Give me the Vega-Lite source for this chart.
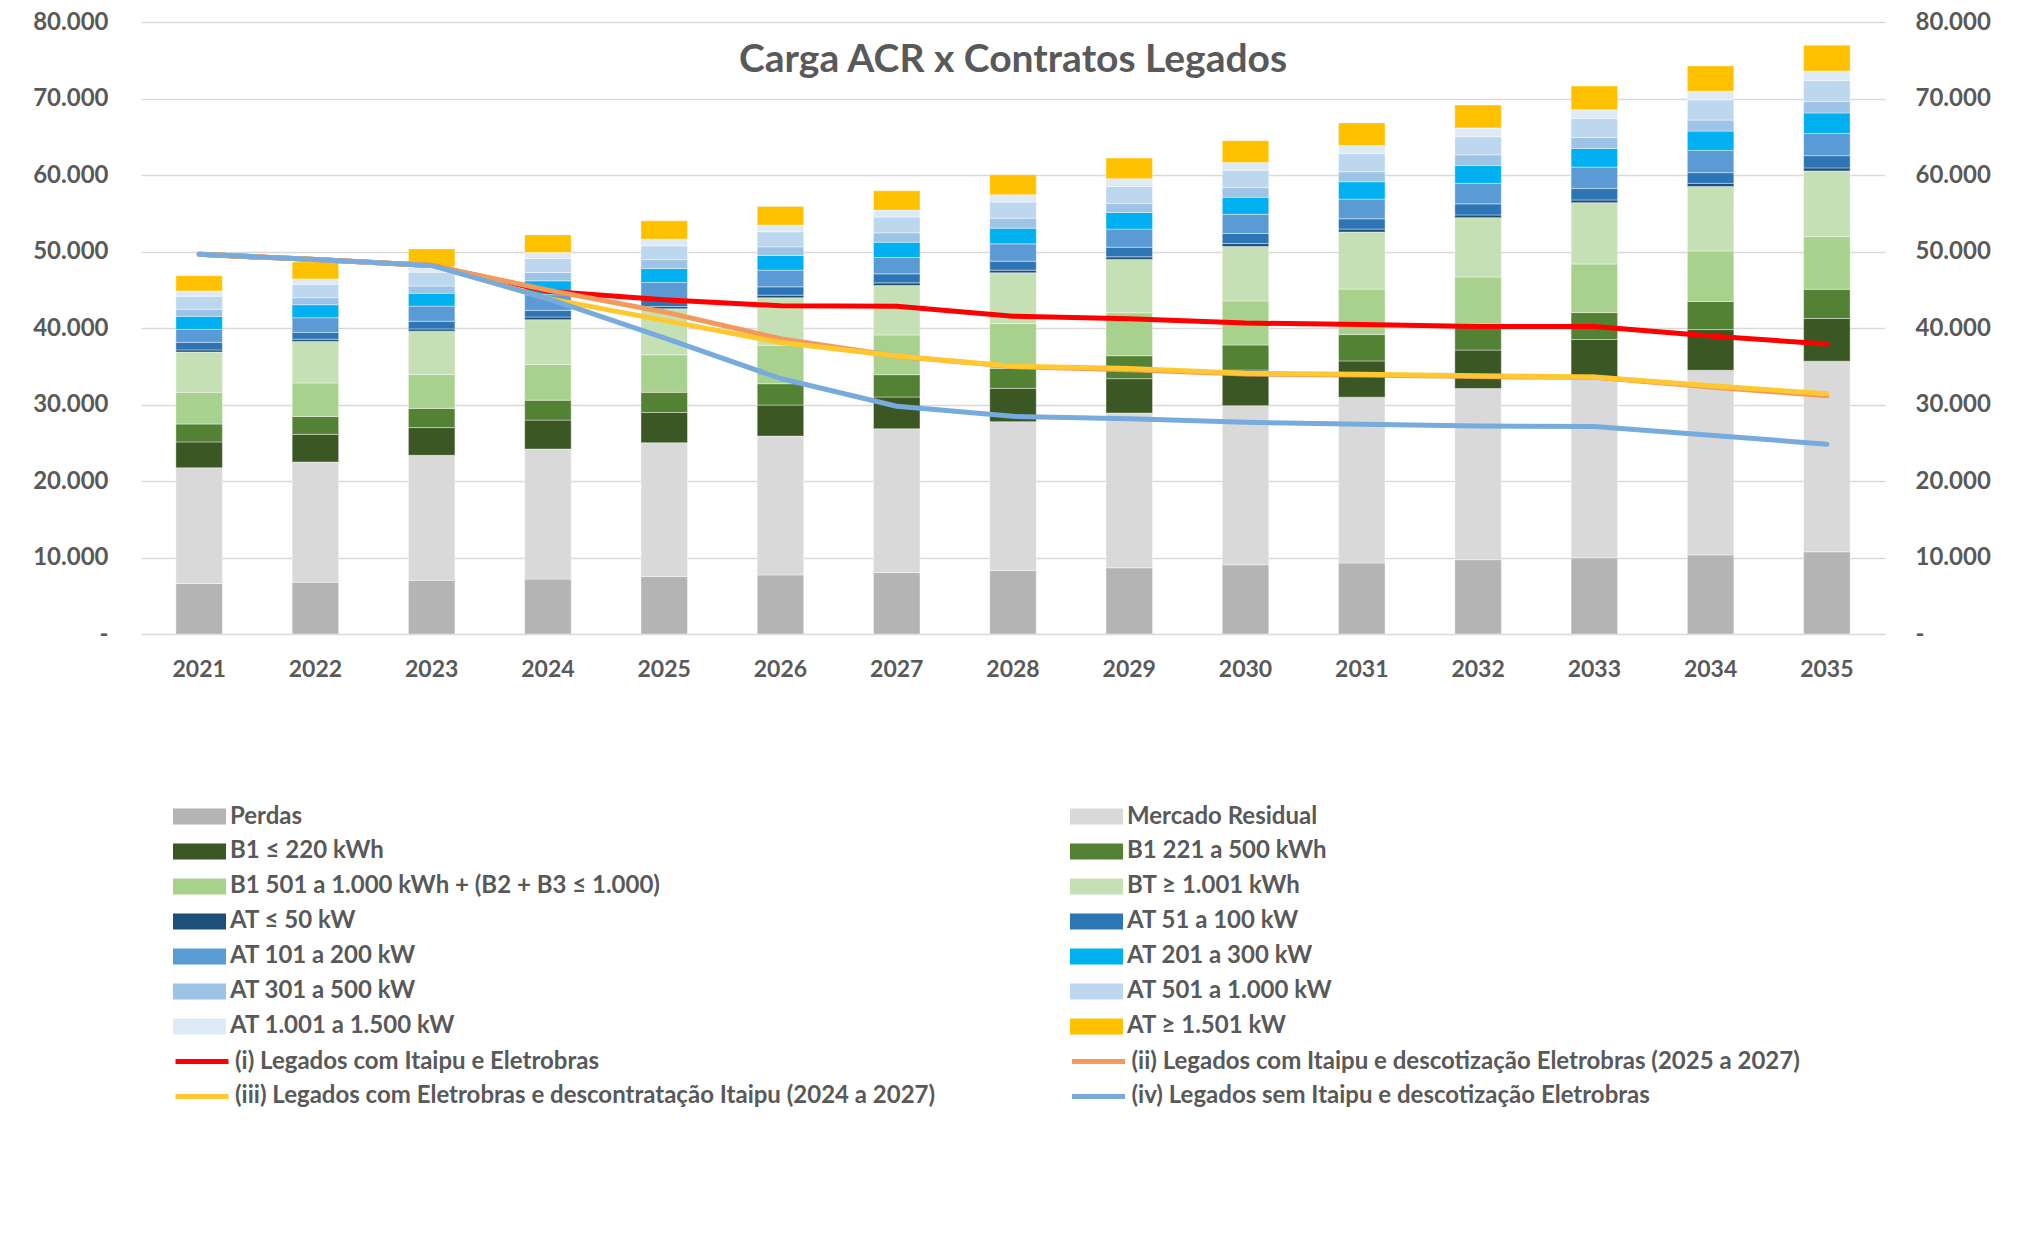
{
  "$schema": "https://vega.github.io/schema/vega-lite/v6.json",
  "width": 1744,
  "height": 612,
  "autosize": {"type": "none"},
  "padding": {"left": 141, "top": 22, "right": 143, "bottom": 602},
  "background": "white",
  "title": {"text": "Carga ACR x Contratos Legados", "font": "Lato", "fontSize": 39, "fontWeight": "bold", "color": "#595959", "anchor": "middle", "baseline": "alphabetic", "offset": -101},
  "config": {
    "view": {"stroke": null},
    "axis": {"labelFont": "Lato", "labelFontWeight": "bold", "labelColor": "#595959", "labelFontSize": 24, "domain": false, "ticks": false, "gridColor": "#D9D9D9", "gridWidth": 1.5, "title": null},
    "legend": {"labelFont": "Lato", "labelFontWeight": "bold", "labelColor": "#595959", "labelFontSize": 24, "labelLimit": 1000, "title": null}
  },
  "datasets": {
    "cats": [
      {"k": 1, "c": "Perdas"},
      {"k": 2, "c": "Mercado Residual"},
      {"k": 3, "c": "B1 ≤ 220 kWh"},
      {"k": 4, "c": "B1 221 a 500 kWh"},
      {"k": 5, "c": "B1 501 a 1.000 kWh + (B2 + B3 ≤ 1.000)"},
      {"k": 6, "c": "BT ≥ 1.001 kWh"},
      {"k": 7, "c": "AT ≤ 50 kW"},
      {"k": 8, "c": "AT 51 a 100 kW"},
      {"k": 9, "c": "AT 101 a 200 kW"},
      {"k": 10, "c": "AT 201 a 300 kW"},
      {"k": 11, "c": "AT 301 a 500 kW"},
      {"k": 12, "c": "AT 501 a 1.000 kW"},
      {"k": 13, "c": "AT 1.001 a 1.500 kW"},
      {"k": 14, "c": "AT ≥ 1.501 kW"}
    ],
    "bars": [
      {"y":"2021","k":1,"v":6600},{"y":"2021","k":2,"v":15120},{"y":"2021","k":3,"v":3390},{"y":"2021","k":4,"v":2340},{"y":"2021","k":5,"v":4140},{"y":"2021","k":6,"v":5260},{"y":"2021","k":7,"v":290},{"y":"2021","k":8,"v":990},{"y":"2021","k":9,"v":1690},{"y":"2021","k":10,"v":1700},{"y":"2021","k":11,"v":930},{"y":"2021","k":12,"v":1700},{"y":"2021","k":13,"v":700},{"y":"2021","k":14,"v":1980},
      {"y":"2022","k":1,"v":6770},{"y":"2022","k":2,"v":15710},{"y":"2022","k":3,"v":3620},{"y":"2022","k":4,"v":2340},{"y":"2022","k":5,"v":4380},{"y":"2022","k":6,"v":5430},{"y":"2022","k":7,"v":290},{"y":"2022","k":8,"v":880},{"y":"2022","k":9,"v":1920},{"y":"2022","k":10,"v":1700},{"y":"2022","k":11,"v":930},{"y":"2022","k":12,"v":1750},{"y":"2022","k":13,"v":700},{"y":"2022","k":14,"v":2220},
      {"y":"2023","k":1,"v":7010},{"y":"2023","k":2,"v":16350},{"y":"2023","k":3,"v":3620},{"y":"2023","k":4,"v":2510},{"y":"2023","k":5,"v":4440},{"y":"2023","k":6,"v":5660},{"y":"2023","k":7,"v":290},{"y":"2023","k":8,"v":1000},{"y":"2023","k":9,"v":1980},{"y":"2023","k":10,"v":1690},{"y":"2023","k":11,"v":940},{"y":"2023","k":12,"v":1810},{"y":"2023","k":13,"v":700},{"y":"2023","k":14,"v":2340},
      {"y":"2024","k":1,"v":7180},{"y":"2024","k":2,"v":17000},{"y":"2024","k":3,"v":3780},{"y":"2024","k":4,"v":2610},{"y":"2024","k":5,"v":4650},{"y":"2024","k":6,"v":5870},{"y":"2024","k":7,"v":340},{"y":"2024","k":8,"v":870},{"y":"2024","k":9,"v":2050},{"y":"2024","k":10,"v":1820},{"y":"2024","k":11,"v":1090},{"y":"2024","k":12,"v":1830},{"y":"2024","k":13,"v":780},{"y":"2024","k":14,"v":2300},
      {"y":"2025","k":1,"v":7530},{"y":"2025","k":2,"v":17460},{"y":"2025","k":3,"v":3970},{"y":"2025","k":4,"v":2630},{"y":"2025","k":5,"v":4910},{"y":"2025","k":6,"v":6010},{"y":"2025","k":7,"v":290},{"y":"2025","k":8,"v":1000},{"y":"2025","k":9,"v":2160},{"y":"2025","k":10,"v":1810},{"y":"2025","k":11,"v":1170},{"y":"2025","k":12,"v":1800},{"y":"2025","k":13,"v":880},{"y":"2025","k":14,"v":2390},
      {"y":"2026","k":1,"v":7720},{"y":"2026","k":2,"v":18150},{"y":"2026","k":3,"v":4060},{"y":"2026","k":4,"v":2790},{"y":"2026","k":5,"v":5020},{"y":"2026","k":6,"v":6200},{"y":"2026","k":7,"v":350},{"y":"2026","k":8,"v":1090},{"y":"2026","k":9,"v":2180},{"y":"2026","k":10,"v":1920},{"y":"2026","k":11,"v":1130},{"y":"2026","k":12,"v":1970},{"y":"2026","k":13,"v":870},{"y":"2026","k":14,"v":2440},
      {"y":"2027","k":1,"v":8030},{"y":"2027","k":2,"v":18800},{"y":"2027","k":3,"v":4150},{"y":"2027","k":4,"v":2920},{"y":"2027","k":5,"v":5190},{"y":"2027","k":6,"v":6460},{"y":"2027","k":7,"v":350},{"y":"2027","k":8,"v":1180},{"y":"2027","k":9,"v":2140},{"y":"2027","k":10,"v":2000},{"y":"2027","k":11,"v":1220},{"y":"2027","k":12,"v":2060},{"y":"2027","k":13,"v":910},{"y":"2027","k":14,"v":2530},
      {"y":"2028","k":1,"v":8290},{"y":"2028","k":2,"v":19460},{"y":"2028","k":3,"v":4360},{"y":"2028","k":4,"v":2620},{"y":"2028","k":5,"v":5850},{"y":"2028","k":6,"v":6630},{"y":"2028","k":7,"v":350},{"y":"2028","k":8,"v":1180},{"y":"2028","k":9,"v":2260},{"y":"2028","k":10,"v":2050},{"y":"2028","k":11,"v":1310},{"y":"2028","k":12,"v":2100},{"y":"2028","k":13,"v":960},{"y":"2028","k":14,"v":2620},
      {"y":"2029","k":1,"v":8660},{"y":"2029","k":2,"v":20220},{"y":"2029","k":3,"v":4500},{"y":"2029","k":4,"v":3000},{"y":"2029","k":5,"v":5610},{"y":"2029","k":6,"v":6970},{"y":"2029","k":7,"v":340},{"y":"2029","k":8,"v":1260},{"y":"2029","k":9,"v":2370},{"y":"2029","k":10,"v":2170},{"y":"2029","k":11,"v":1160},{"y":"2029","k":12,"v":2230},{"y":"2029","k":13,"v":1020},{"y":"2029","k":14,"v":2710},
      {"y":"2030","k":1,"v":9050},{"y":"2030","k":2,"v":20800},{"y":"2030","k":3,"v":4650},{"y":"2030","k":4,"v":3280},{"y":"2030","k":5,"v":5760},{"y":"2030","k":6,"v":7110},{"y":"2030","k":7,"v":390},{"y":"2030","k":8,"v":1310},{"y":"2030","k":9,"v":2510},{"y":"2030","k":10,"v":2230},{"y":"2030","k":11,"v":1260},{"y":"2030","k":12,"v":2270},{"y":"2030","k":13,"v":1020},{"y":"2030","k":14,"v":2850},
      {"y":"2031","k":1,"v":9290},{"y":"2031","k":2,"v":21670},{"y":"2031","k":3,"v":4740},{"y":"2031","k":4,"v":3440},{"y":"2031","k":5,"v":5950},{"y":"2031","k":6,"v":7450},{"y":"2031","k":7,"v":390},{"y":"2031","k":8,"v":1350},{"y":"2031","k":9,"v":2570},{"y":"2031","k":10,"v":2270},{"y":"2031","k":11,"v":1310},{"y":"2031","k":12,"v":2370},{"y":"2031","k":13,"v":1060},{"y":"2031","k":14,"v":2950},
      {"y":"2032","k":1,"v":9720},{"y":"2032","k":2,"v":22370},{"y":"2032","k":3,"v":5020},{"y":"2032","k":4,"v":3390},{"y":"2032","k":5,"v":6170},{"y":"2032","k":6,"v":7750},{"y":"2032","k":7,"v":360},{"y":"2032","k":8,"v":1450},{"y":"2032","k":9,"v":2680},{"y":"2032","k":10,"v":2330},{"y":"2032","k":11,"v":1400},{"y":"2032","k":12,"v":2370},{"y":"2032","k":13,"v":1140},{"y":"2032","k":14,"v":3000},
      {"y":"2033","k":1,"v":9970},{"y":"2033","k":2,"v":23330},{"y":"2033","k":3,"v":5200},{"y":"2033","k":4,"v":3520},{"y":"2033","k":5,"v":6350},{"y":"2033","k":6,"v":8010},{"y":"2033","k":7,"v":360},{"y":"2033","k":8,"v":1500},{"y":"2033","k":9,"v":2790},{"y":"2033","k":10,"v":2430},{"y":"2033","k":11,"v":1450},{"y":"2033","k":12,"v":2480},{"y":"2033","k":13,"v":1140},{"y":"2033","k":14,"v":3100},
      {"y":"2034","k":1,"v":10340},{"y":"2034","k":2,"v":24130},{"y":"2034","k":3,"v":5320},{"y":"2034","k":4,"v":3670},{"y":"2034","k":5,"v":6620},{"y":"2034","k":6,"v":8420},{"y":"2034","k":7,"v":410},{"y":"2034","k":8,"v":1400},{"y":"2034","k":9,"v":2900},{"y":"2034","k":10,"v":2530},{"y":"2034","k":11,"v":1440},{"y":"2034","k":12,"v":2640},{"y":"2034","k":13,"v":1140},{"y":"2034","k":14,"v":3300},
      {"y":"2035","k":1,"v":10750},{"y":"2035","k":2,"v":24910},{"y":"2035","k":3,"v":5580},{"y":"2035","k":4,"v":3820},{"y":"2035","k":5,"v":6880},{"y":"2035","k":6,"v":8580},{"y":"2035","k":7,"v":410},{"y":"2035","k":8,"v":1600},{"y":"2035","k":9,"v":2900},{"y":"2035","k":10,"v":2680},{"y":"2035","k":11,"v":1500},{"y":"2035","k":12,"v":2740},{"y":"2035","k":13,"v":1240},{"y":"2035","k":14,"v":3360}
    ],
    "lines": [
      {"y":"2021","s":"(i) Legados com Itaipu e Eletrobras","v":49640},{"y":"2022","s":"(i) Legados com Itaipu e Eletrobras","v":48940},{"y":"2023","s":"(i) Legados com Itaipu e Eletrobras","v":48180},{"y":"2024","s":"(i) Legados com Itaipu e Eletrobras","v":44800},{"y":"2025","s":"(i) Legados com Itaipu e Eletrobras","v":43700},{"y":"2026","s":"(i) Legados com Itaipu e Eletrobras","v":42900},{"y":"2027","s":"(i) Legados com Itaipu e Eletrobras","v":42850},{"y":"2028","s":"(i) Legados com Itaipu e Eletrobras","v":41550},{"y":"2029","s":"(i) Legados com Itaipu e Eletrobras","v":41200},{"y":"2030","s":"(i) Legados com Itaipu e Eletrobras","v":40650},{"y":"2031","s":"(i) Legados com Itaipu e Eletrobras","v":40450},{"y":"2032","s":"(i) Legados com Itaipu e Eletrobras","v":40210},{"y":"2033","s":"(i) Legados com Itaipu e Eletrobras","v":40200},{"y":"2034","s":"(i) Legados com Itaipu e Eletrobras","v":38950},{"y":"2035","s":"(i) Legados com Itaipu e Eletrobras","v":37900},
      {"y":"2021","s":"(ii) Legados com Itaipu e descotização Eletrobras (2025 a 2027)","v":49640},{"y":"2022","s":"(ii) Legados com Itaipu e descotização Eletrobras (2025 a 2027)","v":48940},{"y":"2023","s":"(ii) Legados com Itaipu e descotização Eletrobras (2025 a 2027)","v":48180},{"y":"2024","s":"(ii) Legados com Itaipu e descotização Eletrobras (2025 a 2027)","v":44950},{"y":"2025","s":"(ii) Legados com Itaipu e descotização Eletrobras (2025 a 2027)","v":42100},{"y":"2026","s":"(ii) Legados com Itaipu e descotização Eletrobras (2025 a 2027)","v":38600},{"y":"2027","s":"(ii) Legados com Itaipu e descotização Eletrobras (2025 a 2027)","v":36300},{"y":"2028","s":"(ii) Legados com Itaipu e descotização Eletrobras (2025 a 2027)","v":34950},{"y":"2029","s":"(ii) Legados com Itaipu e descotização Eletrobras (2025 a 2027)","v":34550},{"y":"2030","s":"(ii) Legados com Itaipu e descotização Eletrobras (2025 a 2027)","v":34000},{"y":"2031","s":"(ii) Legados com Itaipu e descotização Eletrobras (2025 a 2027)","v":33850},{"y":"2032","s":"(ii) Legados com Itaipu e descotização Eletrobras (2025 a 2027)","v":33650},{"y":"2033","s":"(ii) Legados com Itaipu e descotização Eletrobras (2025 a 2027)","v":33550},{"y":"2034","s":"(ii) Legados com Itaipu e descotização Eletrobras (2025 a 2027)","v":32300},{"y":"2035","s":"(ii) Legados com Itaipu e descotização Eletrobras (2025 a 2027)","v":31150},
      {"y":"2021","s":"(iii) Legados com Eletrobras e descontratação Itaipu (2024 a 2027)","v":49640},{"y":"2022","s":"(iii) Legados com Eletrobras e descontratação Itaipu (2024 a 2027)","v":48940},{"y":"2023","s":"(iii) Legados com Eletrobras e descontratação Itaipu (2024 a 2027)","v":48180},{"y":"2024","s":"(iii) Legados com Eletrobras e descontratação Itaipu (2024 a 2027)","v":43850},{"y":"2025","s":"(iii) Legados com Eletrobras e descontratação Itaipu (2024 a 2027)","v":41000},{"y":"2026","s":"(iii) Legados com Eletrobras e descontratação Itaipu (2024 a 2027)","v":38100},{"y":"2027","s":"(iii) Legados com Eletrobras e descontratação Itaipu (2024 a 2027)","v":36350},{"y":"2028","s":"(iii) Legados com Eletrobras e descontratação Itaipu (2024 a 2027)","v":35000},{"y":"2029","s":"(iii) Legados com Eletrobras e descontratação Itaipu (2024 a 2027)","v":34700},{"y":"2030","s":"(iii) Legados com Eletrobras e descontratação Itaipu (2024 a 2027)","v":34100},{"y":"2031","s":"(iii) Legados com Eletrobras e descontratação Itaipu (2024 a 2027)","v":33950},{"y":"2032","s":"(iii) Legados com Eletrobras e descontratação Itaipu (2024 a 2027)","v":33750},{"y":"2033","s":"(iii) Legados com Eletrobras e descontratação Itaipu (2024 a 2027)","v":33600},{"y":"2034","s":"(iii) Legados com Eletrobras e descontratação Itaipu (2024 a 2027)","v":32450},{"y":"2035","s":"(iii) Legados com Eletrobras e descontratação Itaipu (2024 a 2027)","v":31400},
      {"y":"2021","s":"(iv) Legados sem Itaipu e descotização Eletrobras","v":49640},{"y":"2022","s":"(iv) Legados sem Itaipu e descotização Eletrobras","v":48940},{"y":"2023","s":"(iv) Legados sem Itaipu e descotização Eletrobras","v":48180},{"y":"2024","s":"(iv) Legados sem Itaipu e descotização Eletrobras","v":43850},{"y":"2025","s":"(iv) Legados sem Itaipu e descotização Eletrobras","v":38700},{"y":"2026","s":"(iv) Legados sem Itaipu e descotização Eletrobras","v":33400},{"y":"2027","s":"(iv) Legados sem Itaipu e descotização Eletrobras","v":29770},{"y":"2028","s":"(iv) Legados sem Itaipu e descotização Eletrobras","v":28450},{"y":"2029","s":"(iv) Legados sem Itaipu e descotização Eletrobras","v":28150},{"y":"2030","s":"(iv) Legados sem Itaipu e descotização Eletrobras","v":27670},{"y":"2031","s":"(iv) Legados sem Itaipu e descotização Eletrobras","v":27430},{"y":"2032","s":"(iv) Legados sem Itaipu e descotização Eletrobras","v":27180},{"y":"2033","s":"(iv) Legados sem Itaipu e descotização Eletrobras","v":27130},{"y":"2034","s":"(iv) Legados sem Itaipu e descotização Eletrobras","v":25990},{"y":"2035","s":"(iv) Legados sem Itaipu e descotização Eletrobras","v":24810}
    ]
  },
  "layer": [
    {
      "data": {"name": "bars"},
      "transform": [{"lookup": "k", "from": {"data": {"name": "cats"}, "key": "k", "fields": ["c"]}}],
      "mark": {"type": "bar", "stroke": "#ffffff", "strokeWidth": 0.8, "strokeOpacity": 0.5},
      "encoding": {
        "x": {"field": "y", "type": "ordinal", "scale": {"paddingInner": 0.6, "paddingOuter": 0.3}, "axis": {"labelAngle": 0, "labelPadding": 24, "labelFontSize": 23}},
        "y": {"field": "v", "type": "quantitative", "stack": "zero", "scale": {"domain": [0, 80000], "nice": false}, "axis": {"orient": "left", "grid": true, "values": [0, 10000, 20000, 30000, 40000, 50000, 60000, 70000, 80000], "labelPadding": 33, "labelExpr": "datum.value == 0 ? '-' : replace(format(datum.value, ','), ',', '.')"}},
        "order": {"field": "k", "type": "quantitative", "sort": "ascending"},
        "color": {"field": "c", "type": "nominal",
          "scale": {"domain": ["Perdas", "Mercado Residual", "B1 ≤ 220 kWh", "B1 221 a 500 kWh", "B1 501 a 1.000 kWh + (B2 + B3 ≤ 1.000)", "BT ≥ 1.001 kWh", "AT ≤ 50 kW", "AT 51 a 100 kW", "AT 101 a 200 kW", "AT 201 a 300 kW", "AT 301 a 500 kW", "AT 501 a 1.000 kW", "AT 1.001 a 1.500 kW", "AT ≥ 1.501 kW"],
                    "range": ["#B4B4B4", "#D9D9D9", "#3A5724", "#548235", "#A9D18E", "#C5E0B4", "#1F4E79", "#2E75B6", "#5B9BD5", "#00B0F0", "#9DC3E6", "#BDD7EE", "#DEEBF7", "#FFC000"]},
          "legend": {"orient": "none", "direction": "horizontal", "legendX": 32, "legendY": 777, "columns": 2, "columnPadding": 410, "rowPadding": 0, "clipHeight": 34.9, "symbolType": "M-1,-0.3H1V0.3H-1Z", "symbolSize": 2809, "symbolStrokeWidth": 0, "labelOffset": 4}}
      }
    },
    {
      "data": {"name": "lines"},
      "mark": {"type": "line", "strokeWidth": 5, "strokeCap": "round", "strokeJoin": "round"},
      "encoding": {
        "x": {"field": "y", "type": "ordinal"},
        "y": {"field": "v", "type": "quantitative", "scale": {"domain": [0, 80000], "nice": false}, "axis": {"orient": "right", "grid": false, "values": [0, 10000, 20000, 30000, 40000, 50000, 60000, 70000, 80000], "labelPadding": 30, "labelExpr": "datum.value == 0 ? '-' : replace(format(datum.value, ','), ',', '.')"}},
        "stroke": {"field": "s", "type": "nominal",
          "scale": {"domain": ["(i) Legados com Itaipu e Eletrobras", "(ii) Legados com Itaipu e descotização Eletrobras (2025 a 2027)", "(iii) Legados com Eletrobras e descontratação Itaipu (2024 a 2027)", "(iv) Legados sem Itaipu e descotização Eletrobras"],
                    "range": ["#FF0000", "#F2995C", "#FFC830", "#78ABDD"]},
          "legend": {"orient": "none", "direction": "horizontal", "legendX": 32, "legendY": 1022, "columns": 2, "columnPadding": 133.5, "rowPadding": 0, "clipHeight": 34.9, "symbolType": "stroke", "symbolSize": 2809, "symbolStrokeWidth": 5, "labelOffset": 4}}
      }
    }
  ],
  "resolve": {"axis": {"y": "independent"}}
}
